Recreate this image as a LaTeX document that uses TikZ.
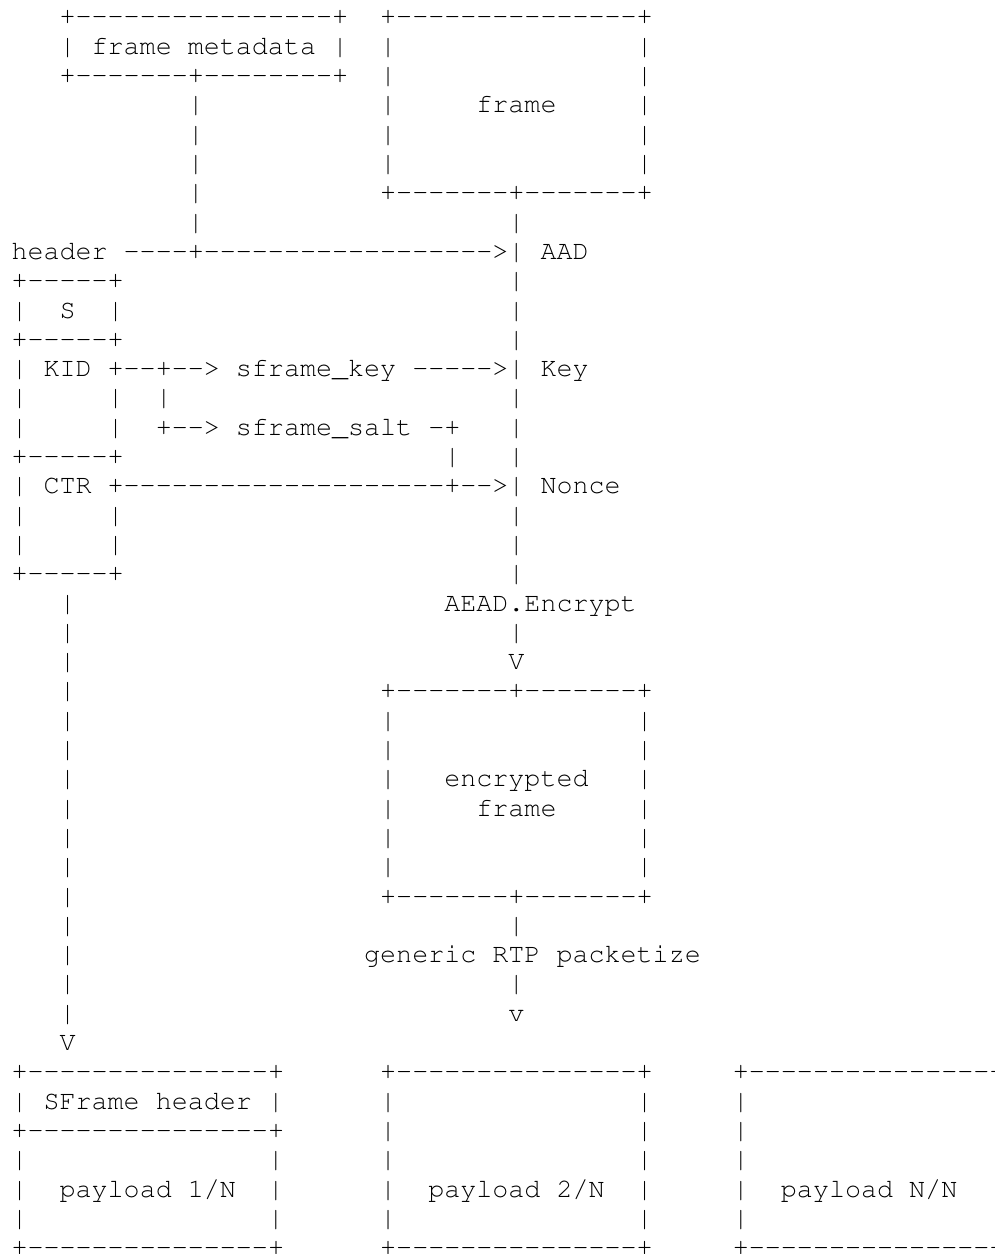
\documentclass[tikz,border=0pt]{standalone}
\usepackage[T1]{fontenc}
\usepackage{courier}
\usepackage{tikz}

\newcommand{\asciifont}{\fontsize{26.72pt}{29.3pt}\ttfamily}
% hyphens one by one, so that -- stays two hyphens
\newcommand{\dashes}[1]{\foreach \k in {1,...,#1}{-\kern0pt}}

\tikzset{
  ascii/.style={font=\asciifont, anchor=base west, inner sep=0pt, outer sep=0pt, xshift=-8pt},
}

\begin{document}
\begin{tikzpicture}[x=16.03pt, y=-29.3pt]
\clip (-1.2165,-0.853) rectangle (60.792,41.945);

% frame metadata
\node[ascii] (metatop) at (3,0) {+\dashes{16}+};
\node[ascii] (meta) at (3,1) {| frame metadata |};
\node[ascii] (metabot) at (3,2) {+\dashes{7}+\dashes{8}+};
\foreach \r in {3,...,7}
  \node[ascii] (metaline\r) at (11,\r) {|};

% frame
\node[ascii] (frametop) at (23,0) {+\dashes{15}+};
\foreach \r in {1,...,5} {
  \node[ascii] (frameL\r) at (23,\r) {|};
  \node[ascii] (frameR\r) at (39,\r) {|};
}
\node[ascii] (frame) at (29,3) {frame};
\node[ascii] (framebot) at (23,6) {+\dashes{7}+\dashes{7}+};

% inputs of AEAD.Encrypt
\node[ascii] (aad) at (0,8) {header \dashes{4}+\dashes{18}>| AAD};
\node[ascii] (key) at (0,12) {| KID +\dashes{2}+\dashes{2}> sframe\_key \dashes{5}>| Key};
\node[ascii] (nonce) at (0,16) {| CTR +\dashes{20}+\dashes{2}>| Nonce};
\foreach \r in {7,9,10,11,13,14,15,17,18,19,21}
  \node[ascii] (aeadline\r) at (31,\r) {|};
\node[ascii] (aead) at (27,20) {AEAD.Encrypt};
\node[ascii] (aeadarrow) at (31,22) {V};

% SFrame header S / KID / CTR
\node[ascii] (stop) at (0,9) {+\dashes{5}+};
\node[ascii] (sL) at (0,10) {|};
\node[ascii] (s) at (3,10) {S};
\node[ascii] (sR) at (6,10) {|};
\node[ascii] (smid) at (0,11) {+\dashes{5}+};
\foreach \r in {13,14,17,18} {
  \node[ascii] (hdrL\r) at (0,\r) {|};
  \node[ascii] (hdrR\r) at (6,\r) {|};
}
\node[ascii] (kidbot) at (0,15) {+\dashes{5}+};
\node[ascii] (hdrbot) at (0,19) {+\dashes{5}+};

% key / salt
\node[ascii] (split) at (9,13) {|};
\node[ascii] (salt) at (9,14) {+\dashes{2}> sframe\_salt -+};
\node[ascii] (saltdown) at (27,15) {|};

% header down to the first packet
\foreach \r in {20,...,34}
  \node[ascii] (hdrline\r) at (3,\r) {|};
\node[ascii] (hdrarrow) at (3,35) {V};

% encrypted frame
\node[ascii] (enctop) at (23,23) {+\dashes{7}+\dashes{7}+};
\foreach \r in {24,...,29} {
  \node[ascii] (encL\r) at (23,\r) {|};
  \node[ascii] (encR\r) at (39,\r) {|};
}
\node[ascii] (enc) at (27,26) {encrypted};
\node[ascii] (encframe) at (29,27) {frame};
\node[ascii] (encbot) at (23,30) {+\dashes{7}+\dashes{7}+};

% packetize
\node[ascii] (rtpup) at (31,31) {|};
\node[ascii] (rtp) at (22,32) {generic RTP packetize};
\node[ascii] (rtpdown) at (31,33) {|};
\node[ascii] (rtparrow) at (31,34) {v};

% payloads
\foreach \c in {0,23,45} {
  \node[ascii] (paytop\c) at (\c,36) {+\dashes{15}+};
  \node[ascii] (paybot\c) at (\c,42) {+\dashes{15}+};
  \foreach \r in {39,40,41} {
    \node[ascii] (payL\c-\r) at (\c,\r) {|};
    \node[ascii] (payR\c-\r) at (\c+16,\r) {|};
  }
}
\node[ascii] (sfh) at (0,37) {| SFrame header |};
\node[ascii] (sfhbot) at (0,38) {+\dashes{15}+};
\foreach \c in {23,45} {
  \foreach \r in {37,38} {
    \node[ascii] (payL\c-\r) at (\c,\r) {|};
    \node[ascii] (payR\c-\r) at (\c+16,\r) {|};
  }
}
\node[ascii] (pay1) at (3,40) {payload 1/N};
\node[ascii] (pay2) at (26,40) {payload 2/N};
\node[ascii] (payN) at (48,40) {payload N/N};
\end{tikzpicture}
\end{document}
